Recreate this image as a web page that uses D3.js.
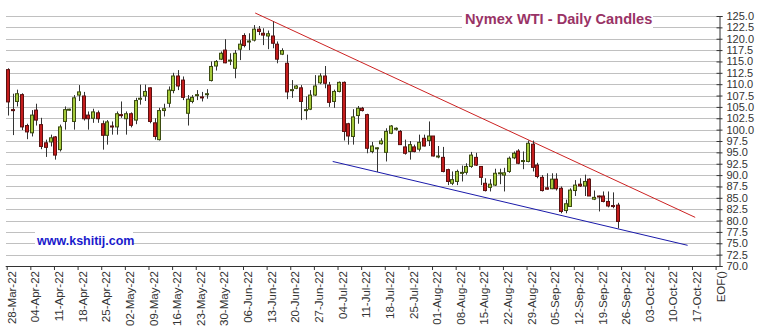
<!DOCTYPE html>
<html>
<head>
<meta charset="utf-8">
<script src="https://cdn.jsdelivr.net/npm/d3@7"></script>
<style>
  html, body { margin: 0; padding: 0; background: #ffffff; }
  svg { display: block; }
</style>
</head>
<body>
<script>
// ---- Data ----
// One candle per trading slot, starting Mon 28-Mar-22 (slot 0) to Fri 23-Sep-22 (slot 129)
const opens = [113.2,104.4,106.2,107.7,100.9, 99.3,104.3,101.1,97.1,97.3, 98.4,95.6,101.8,104.3,101.8,
  107.6,107.4,103.2,102.5,103.7, 101.3,98.75,100.8,100.6,103.3, 102.4,103.5,102.1,106.7,107.4,
  109.2,101.5,97.8,104.2,105.8, 108.6,111.8,110.9,103.6,106.2, 107.5,107.2,107.7,110.8,114.0,
  115.5,117.5,115.1,113.5,117.7, 120.7,119.3,119.7,122.1,121.2, 120.6,120.6,118.8,116.6,114.6,
  108.6,109.1,109.2,104.2,104.5, 107.6,110.3,111.8,109.8,106.2, 108.4,110.4,101.3,98.5,103.1,
  104.7,103.3,95.2,95.8,96.9, 95.0,99.2,100.2,99.6,96.2, 95.2,96.2,95.7,98.1,97.6,
  98.6,94.1,93.9,91.2,88.2, 88.6,90.5,90.6,91.9,93.9, 91.9,88.2,87.3,87.8,90.4,
  90.0,90.8,93.8,95.3,93.1, 93.0,96.8,92.2,89.5,87.2, 87.0,89.1,87.1,82.2,83.1,
  86.6,88.0,87.6,89.1,84.7, 85.4,85.4,84.2,83.3,83.4];
const highs = [113.5,107.9,108.8,108.0,101.3, 104.3,105.7,102.6,97.8,98.9, 98.6,101.1,105.1,104.6,107.6,
  109.8,108.3,104.0,104.6,104.2, 102.0,102.1,101.8,104.0,106.2, 104.0,103.8,107.0,109.9,109.9,
  109.3,102.5,104.8,105.7,109.5, 112.5,113.1,111.7,107.6,107.6, 108.7,108.3,108.9,115.0,115.3,
  117.2,119.9,116.8,117.5,119.7, 121.2,121.2,123.0,122.8,122.3, 121.8,123.8,119.4,117.9,116.5,
  110.9,109.8,109.8,107.3,108.7, 112.0,112.4,114.0,110.5,108.8, 110.6,110.6,101.5,104.5,105.2,
  105.0,103.5,97.3,96.1,98.1, 100.3,101.0,100.5,99.9,97.8, 97.5,96.7,98.9,98.9,101.8,
  98.6,96.4,96.2,91.4,90.8, 91.2,92.1,92.6,95.1,94.9, 92.0,89.3,89.1,91.4,91.4,
  91.6,94.1,95.2,95.7,95.2, 97.6,97.6,92.7,90.0,90.4, 90.4,90.4,87.5,84.6,87.1,
  88.9,89.3,90.1,89.3,86.6, 85.5,86.4,86.4,86.2,83.9];
const lows = [103.1,98.8,105.1,99.9,97.9, 98.5,100.9,95.7,94.0,96.3, 93.4,95.2,100.0,104.2,100.0,
  106.3,102.0,100.0,101.5,101.5, 95.6,96.7,98.9,98.9,102.6, 98.9,100.5,101.2,105.5,106.3,
  101.4,97.8,97.6,102.9,104.9, 108.0,108.7,106.5,100.9,105.8, 106.5,106.2,106.8,110.6,113.0,
  115.3,114.6,114.2,111.3,115.3, 118.1,117.5,119.4,120.8,118.6, 117.7,117.9,114.6,116.4,106.7,
  107.0,108.9,102.1,102.2,104.3, 107.4,110.0,109.1,105.0,104.8, 108.2,97.6,96.7,96.7,101.3,
  104.0,94.8,94.8,90.7,96.7, 93.0,99.0,99.8,96.7,94.5, 93.4,95.0,95.2,96.3,96.4,
  94.1,93.7,90.6,87.8,87.8, 87.8,88.6,90.1,91.6,92.0, 87.8,86.4,86.4,87.6,88.0,
  86.4,90.5,93.5,92.4,91.3, 92.8,90.8,89.3,86.4,86.8, 86.9,86.6,81.6,81.6,83.1,
  85.4,87.4,85.4,85.4,84.5, 82.0,84.0,82.9,82.7,78.3];
const closes = [106.1,104.2,107.9,100.6,99.5, 103.2,102.1,96.3,96.1,98.2, 94.4,100.6,104.4,104.5,107.0,
  108.3,102.4,102.4,103.9,102.4, 98.75,101.7,100.6,103.5,103.1, 103.5,100.95,106.4,106.9,108.4,
  101.8,98.5,104.2,104.6,108.7, 111.8,109.6,107.1,106.7,107.1, 107.7,107.0,107.9,113.9,115.0,
  116.8,114.7,115.3,116.8,118.8, 118.5,119.5,122.1,121.6,120.8, 121.1,119.0,115.5,117.4,108.3,
  108.8,109.6,106.2,104.4,107.6, 109.6,111.8,110.2,106.0,108.4, 110.4,99.6,98.6,102.8,104.7,
  104.2,95.9,96.4,96.0,97.5, 99.6,100.8,100.3,96.7,94.8, 96.7,95.2,97.2,96.4,98.6,
  94.2,94.2,90.8,88.6,89.0, 90.8,90.6,91.9,94.4,92.2, 89.5,86.6,88.0,90.4,90.5,
  90.5,93.7,94.8,92.6,93.2, 97.0,91.7,89.7,86.6,86.9, 89.1,87.0,82.0,83.7,86.7,
  87.8,87.6,88.6,85.4,85.1, 85.3,84.2,83.2,83.2,79.8];

// Weekly tick labels (one every 5 trading slots) and the trailing label
const xTickLabels = ["28-Mar-22","04-Apr-22","11-Apr-22","18-Apr-22","25-Apr-22","02-May-22",
  "09-May-22","16-May-22","23-May-22","30-May-22","06-Jun-22","13-Jun-22","20-Jun-22","27-Jun-22",
  "04-Jul-22","11-Jul-22","18-Jul-22","25-Jul-22","01-Aug-22","08-Aug-22","15-Aug-22","22-Aug-22",
  "29-Aug-22","05-Sep-22","12-Sep-22","19-Sep-22","26-Sep-22","03-Oct-22","10-Oct-22","17-Oct-22","EOF()"];
const yTicks = [70,72.5,75,77.5,80,82.5,85,87.5,90,92.5,95,97.5,100,102.5,105,107.5,110,112.5,115,117.5,120,122.5,125];

// Trend lines: [slot, price]
const resistanceLine = [[52.3,125.66],[145.4,80.7]];
const supportLine = [[68.7,93.0],[143.8,74.55]];

const titleText = "Nymex WTI - Daily Candles";
const siteText = "www.kshitij.com";

// ---- Chart ----
const W = 762, H = 332;
const svg = d3.select("body").append("svg").attr("width", W).attr("height", H);
svg.append("rect").attr("width", W).attr("height", H).attr("fill", "#ffffff");

const plotLeft = 6.7, plotRight = 719.5, plotTop = 16, plotBottom = 266;
const x = d3.scaleLinear().domain([0, 150]).range([plotLeft, 715.6]);
const y = d3.scaleLinear().domain([70, 125]).range([plotBottom, plotTop]);
const slotOffset = 0.28;

// grid lines
svg.append("g").selectAll("line").data(yTicks.filter(v => v > 70)).join("line")
  .attr("x1", 6).attr("x2", plotRight)
  .attr("y1", d => Math.round(y(d)) + 0.5).attr("y2", d => Math.round(y(d)) + 0.5)
  .attr("stroke", "#c0c0c0").attr("stroke-width", 1.2);

// white label boxes (title + site) that hide the grid
const titleG = svg.append("g");
titleG.append("rect").attr("x", 462).attr("y", 6).attr("width", 191).attr("height", 24).attr("fill", "#fff");
titleG.append("text").attr("x", 465).attr("y", 24)
  .attr("font-family", "Liberation Sans, Arial, sans-serif").attr("font-weight", "bold")
  .attr("font-size", 14.6).attr("fill", "#993366").text(titleText);

const siteG = svg.append("g");
siteG.append("rect").attr("x", 35).attr("y", 230).attr("width", 98).attr("height", 20).attr("fill", "#fff");
siteG.append("text").attr("x", 37).attr("y", 245)
  .attr("font-family", "Liberation Sans, Arial, sans-serif").attr("font-weight", "bold")
  .attr("font-size", 12.5).attr("fill", "#1a1acc").text(siteText);

// trend lines
const line = d3.line().x(d => x(d[0] + slotOffset)).y(d => y(d[1]));
svg.append("path").attr("d", line(resistanceLine)).attr("fill", "none").attr("stroke", "#cc2222").attr("stroke-width", 1);
svg.append("path").attr("d", line(supportLine)).attr("fill", "none").attr("stroke", "#1a1aaa").attr("stroke-width", 1);

// candles
const candles = closes.map((c, i) => ({ i, o: opens[i], h: highs[i], l: lows[i], c }));
const cg = svg.append("g");
const bodyW = 4;
cg.selectAll("line.wick").data(candles).join("line").attr("class", "wick")
  .attr("x1", d => Math.round(x(d.i + slotOffset)) + 0.5).attr("x2", d => Math.round(x(d.i + slotOffset)) + 0.5)
  .attr("y1", d => y(d.h)).attr("y2", d => y(d.l))
  .attr("stroke", "#333333").attr("stroke-width", 1);
cg.selectAll("rect.body").data(candles).join("rect").attr("class", "body")
  .attr("x", d => Math.round(x(d.i + slotOffset)) - 1.5)
  .attr("y", d => y(Math.max(d.o, d.c)))
  .attr("width", bodyW - 1)
  .attr("height", d => Math.max(1, y(Math.min(d.o, d.c)) - y(Math.max(d.o, d.c))))
  .attr("fill", d => d.c >= d.o ? "#a4c93a" : "#c41c1c")
  .attr("stroke", d => d.c >= d.o ? "#3a4a10" : "#5a1010").attr("stroke-width", 1);

// Y axis (right)
const yAxis = d3.axisRight(y).tickValues(yTicks).tickFormat(d3.format(".1f")).tickSize(3).tickPadding(4);
const yg = svg.append("g").attr("transform", `translate(${plotRight},0)`).call(yAxis);
yg.select(".domain").attr("stroke", "#333");
yg.selectAll(".tick line").attr("stroke", "#333").attr("x1", -3);
yg.selectAll("text").attr("font-family", "Liberation Sans, Arial, sans-serif").attr("font-size", 11).attr("fill", "#333");

// X axis (bottom)
const xTickVals = xTickLabels.map((_, k) => k * 5);
const xAxis = d3.axisBottom(x).tickValues(xTickVals).tickFormat((d, k) => xTickLabels[k]).tickSize(4).tickSizeOuter(0);
const xg = svg.append("g").attr("transform", `translate(0,${plotBottom})`).call(xAxis);
xg.select(".domain").attr("stroke", "#333").attr("d", `M${plotLeft - 1},0.5H${plotRight}`);
xg.selectAll(".tick line").attr("stroke", "#333");
xg.selectAll("text")
  .attr("font-family", "Liberation Sans, Arial, sans-serif").attr("font-size", 11.5).attr("fill", "#333")
  .attr("text-anchor", "end")
  .attr("transform", "rotate(-90)")
  .attr("x", -5).attr("y", 0).attr("dy", "0.75em").attr("dx", 0);
</script>
</body>
</html>
